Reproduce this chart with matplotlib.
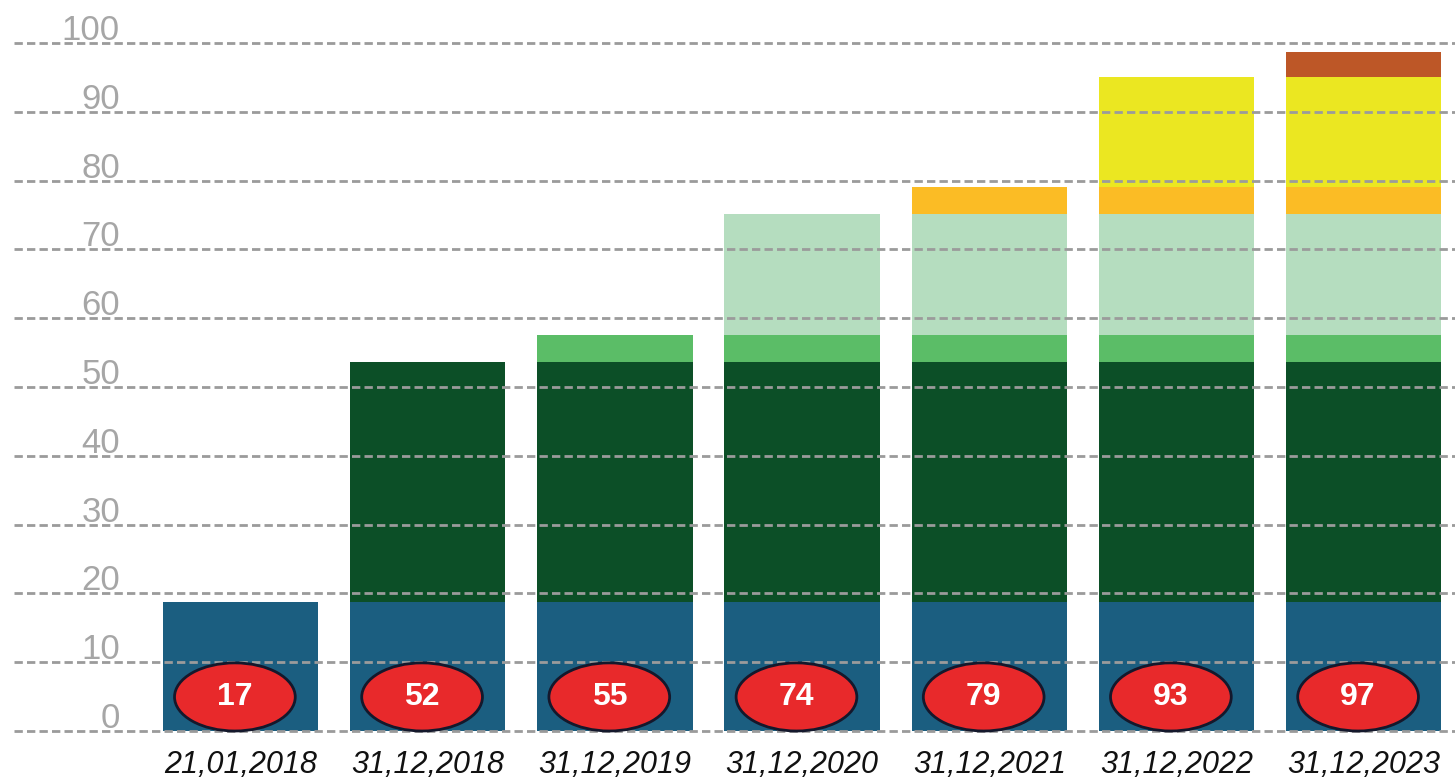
import matplotlib
matplotlib.use("Agg")
import matplotlib.pyplot as plt
from matplotlib.patches import Ellipse
import numpy as np

plt.rcParams['font.family'] = ['Liberation Sans', 'DejaVu Sans']

categories = ["21,01,2018", "31,12,2018", "31,12,2019", "31,12,2020",
              "31,12,2021", "31,12,2022", "31,12,2023"]
totals = [17, 52, 55, 74, 79, 93, 97]

seg_blue = [18.8, 18.8, 18.8, 18.8, 18.8, 18.8, 18.8]
seg_darkgreen = [0, 34.9, 34.9, 34.9, 34.9, 34.9, 34.9]
seg_green = [0, 0, 3.8, 3.8, 3.8, 3.8, 3.8]
seg_lightgreen = [0, 0, 0, 17.7, 17.7, 17.7, 17.7]
seg_orange = [0, 0, 0, 0, 3.8, 3.8, 3.8]
seg_yellow = [0, 0, 0, 0, 0, 16.0, 16.0]
seg_brown = [0, 0, 0, 0, 0, 0, 3.7]

yticks = [0, 10, 20, 30, 40, 50, 60, 70, 80, 90, 100]

series = [seg_blue, seg_darkgreen, seg_green, seg_lightgreen,
          seg_orange, seg_yellow, seg_brown]
colors = ["#1b5e80", "#0c4f27", "#5bbd67", "#b5ddbf",
          "#fbbc25", "#ebe721", "#bd5727"]

W, H = 1455, 781
fig = plt.figure(figsize=(W / 100, H / 100), dpi=100)

pxu = 6.88
y0px = 731
ylo, yhi = -1.0, 101.0
bottom_px = y0px - ylo * pxu
top_px = y0px - yhi * pxu
ax = fig.add_axes([14 / W, (H - bottom_px) / H, (W - 14) / W, (bottom_px - top_px) / H])

spacing = 187.2
c0 = 240.5
xlo = (14 - c0) / spacing
xhi = (W - c0) / spacing
ax.set_xlim(xlo, xhi)
ax.set_ylim(ylo, yhi)
ax.axis('off')

x = np.arange(len(categories))
base = np.zeros(len(categories))
for vals, col in zip(series, colors):
    v = np.array(vals, dtype=float)
    ax.bar(x, v, bottom=base, width=0.83, color=col, zorder=2, linewidth=0)
    base = base + v

for t in yticks:
    ax.axhline(t, color="#9b9b9b", lw=2.0, ls=(0, (3.0, 1.5)), zorder=3)
    ax.text((120 - c0) / spacing, t + 0.45, str(t), ha='right', va='baseline',
            fontsize=25, color="#a6a6a6", zorder=4)

for i, (cat, tot) in enumerate(zip(categories, totals)):
    e = Ellipse((i - 0.03, 4.95), width=0.645, height=9.9, facecolor="#e8292b",
                edgecolor="#14182c", lw=2, zorder=5)
    ax.add_patch(e)
    ax.text(i - 0.03, 4.95, str(tot), ha='center', va='center', fontsize=23,
            fontweight='bold', color='white', zorder=6)
    ax.text(i, -4.9, cat, ha='center', va='center', fontsize=22,
            fontstyle='italic', color='#111111', zorder=6, clip_on=False)

fig.savefig("out.png", dpi=100)
